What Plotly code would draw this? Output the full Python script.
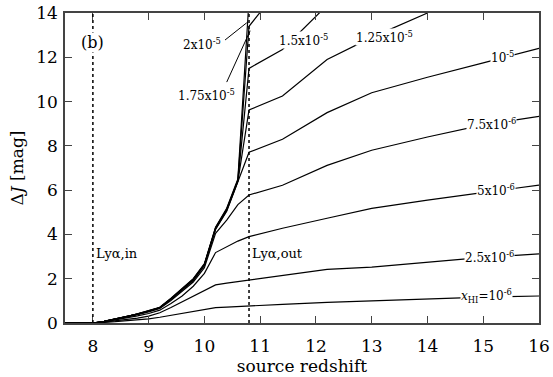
import plotly.graph_objects as go

# ---------------- data ----------------
z = [7.5, 8.0, 8.2, 8.4, 8.6, 8.8, 9.0, 9.2, 9.4, 9.6, 9.8, 10.0, 10.2, 10.4, 10.6,
     10.8, 11.4, 12.2, 13.0, 14.0, 15.0, 16.0]

dJ_2e5 = [0, 0, 0.07, 0.17, 0.29, 0.41, 0.55, 0.71, 1.12, 1.55, 2.00, 2.68, 4.32, 5.18, 6.50,
          14.6, None, None, None, None, None, None]
dJ_175e5 = [0, 0, 0.07, 0.17, 0.28, 0.41, 0.54, 0.70, 1.10, 1.53, 1.98, 2.65, 4.30, 5.15, 6.45,
            13.40, 15.3, None, None, None, None, None]
dJ_15e5 = [0, 0, 0.07, 0.17, 0.28, 0.40, 0.54, 0.70, 1.09, 1.52, 1.96, 2.64, 4.28, 5.12, 6.42,
           11.50, 12.35, 14.35, None, None, None, None]
dJ_125e5 = [0, 0, 0.07, 0.17, 0.28, 0.40, 0.53, 0.69, 1.08, 1.50, 1.94, 2.62, 4.25, 5.08, 6.40,
            9.62, 10.25, 11.90, 12.90, 14.00, None, None]
dJ_1e5 = [0, 0, 0.07, 0.17, 0.28, 0.40, 0.53, 0.68, 1.06, 1.48, 1.92, 2.60, 4.22, 5.05, 6.38,
          7.71, 8.30, 9.50, 10.40, 11.10, 11.75, 12.40]
dJ_75e6 = [0, 0, 0.06, 0.16, 0.27, 0.38, 0.50, 0.66, 1.02, 1.42, 1.85, 2.50, 4.05, 4.65, 5.35,
           5.78, 6.22, 7.12, 7.80, 8.40, 8.95, 9.33]
dJ_5e6 = [0, 0, 0.05, 0.13, 0.22, 0.32, 0.43, 0.58, 0.88, 1.22, 1.66, 2.24, 3.18, 3.45, 3.70,
          3.90, 4.28, 4.73, 5.18, 5.55, 5.90, 6.23]
dJ_25e6 = [0, 0, 0.04, 0.09, 0.15, 0.22, 0.31, 0.46, 0.70, 0.96, 1.22, 1.48, 1.72, 1.80, 1.87,
           1.94, 2.17, 2.42, 2.52, 2.75, 2.96, 3.12]
dJ_1e6 = [0, 0, 0.03, 0.06, 0.10, 0.14, 0.19, 0.26, 0.35, 0.43, 0.52, 0.60, 0.69, 0.72, 0.75,
          0.77, 0.84, 0.93, 1.00, 1.09, 1.17, 1.22]

series = [dJ_2e5, dJ_175e5, dJ_15e5, dJ_125e5, dJ_1e5, dJ_75e6, dJ_5e6, dJ_25e6, dJ_1e6]

lya_in = 8.0
lya_out = 10.8

x_ticks = [8, 9, 10, 11, 12, 13, 14, 15, 16]
y_ticks = [0, 2, 4, 6, 8, 10, 12, 14]

curve_labels = ["2x10<sup>-5</sup>", "1.75x10<sup>-5</sup>", "1.5x10<sup>-5</sup>",
                "1.25x10<sup>-5</sup>", "10<sup>-5</sup>", "7.5x10<sup>-6</sup>",
                "5x10<sup>-6</sup>", "2.5x10<sup>-6</sup>",
                "<i>x</i><sub>HI</sub>=10<sup>-6</sup>"]

# ---------------- figure ----------------
FONT = "DejaVu Serif"
fig = go.Figure()

for ys in series:
    fig.add_trace(go.Scatter(x=z, y=ys, mode="lines",
                             line=dict(color="black", width=1.2),
                             showlegend=False, hoverinfo="skip"))

for xv in (lya_in, lya_out):
    fig.add_shape(type="line", x0=xv, x1=xv, y0=0, y1=14, xref="x", yref="y",
                  line=dict(color="black", width=1.5, dash="dot"))

# label placements (layout only)
label_pos = [(9.95, 12.62), (10.04, 10.3), (11.78, 12.78), (13.23, 12.9),
             (15.35, 12.0), (15.15, 9.0), (15.22, 6.0), (15.12, 3.0), (15.05, 1.2)]
for txt, (lx, ly) in zip(curve_labels, label_pos):
    fig.add_annotation(x=lx, y=ly, text=txt, showarrow=False, xref="x", yref="y",
                       font=dict(family=FONT, size=12, color="black"),
                       bgcolor="white", borderpad=0)

# leader lines for the two steepest curves
fig.add_shape(type="line", x0=10.37, y0=12.78, x1=10.76, y1=13.56, xref="x", yref="y",
              line=dict(color="black", width=1))
fig.add_shape(type="line", x0=10.40, y0=10.88, x1=10.82, y1=13.2, xref="x", yref="y",
              line=dict(color="black", width=1))

fig.add_annotation(x=lya_in, y=12.65, text="(b)", showarrow=False,
                   font=dict(family=FONT, size=16, color="black"),
                   bgcolor="white", borderpad=0)
fig.add_annotation(x=lya_in + 0.02, y=3.15, text="Lyα,in", showarrow=False, xanchor="left",
                   font=dict(family=FONT, size=13, color="black"))
fig.add_annotation(x=lya_out + 0.02, y=3.15, text="Lyα,out", showarrow=False, xanchor="left",
                   font=dict(family=FONT, size=13, color="black"))

axis_common = dict(showgrid=False, zeroline=False, showline=True, linecolor="#444",
                   linewidth=1.5, mirror="ticks", ticks="inside", ticklen=7,
                   tickwidth=1.2, tickcolor="#444", automargin=False,
                   tickfont=dict(family=FONT, size=17, color="black"))

fig.update_layout(
    width=553, height=377,
    margin=dict(l=65, r=14, t=13, b=54),
    paper_bgcolor="white", plot_bgcolor="white",
    xaxis=dict(range=[7.5, 16], tickvals=x_ticks, ticklabelstandoff=7,
               title=dict(text="source redshift", font=dict(family=FONT, size=17, color="black"),
                          standoff=4),
               **axis_common),
    yaxis=dict(range=[0, 14], tickvals=y_ticks, ticklabelstandoff=2,
               title=dict(text="Δ<i>J</i> [mag]", font=dict(family=FONT, size=17, color="black"),
                          standoff=8),
               **axis_common),
)

fig.write_html("out.html")
